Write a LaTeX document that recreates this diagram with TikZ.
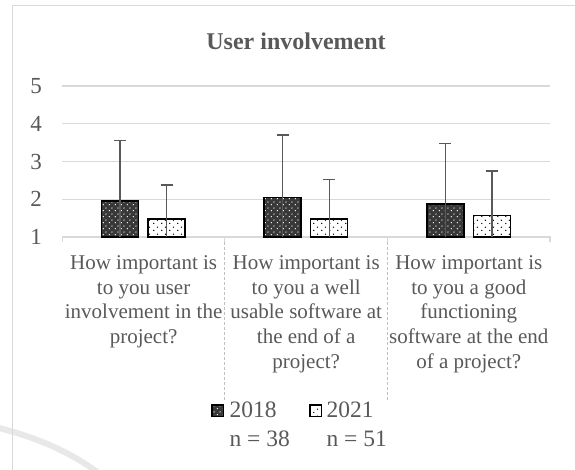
\documentclass[tikz,border=0pt]{standalone}
\usepackage{fontspec}
\setmainfont{Liberation Serif}
\usetikzlibrary{patterns}
\definecolor{txt}{HTML}{595959}
\definecolor{gridc}{HTML}{D9D9D9}
\definecolor{sepc}{HTML}{BFBFBF}
\pgfdeclarepatternformonly{spotsA}{\pgfpointorigin}{\pgfpoint{6pt}{6pt}}{\pgfpoint{6pt}{6pt}}{%
  \pgfpathcircle{\pgfpoint{1.5pt}{1.5pt}}{0.75pt}%
  \pgfpathcircle{\pgfpoint{4.5pt}{4.5pt}}{0.75pt}%
  \pgfusepath{fill}}
\pgfdeclarepatternformonly{dotsB}{\pgfpointorigin}{\pgfpoint{8pt}{7pt}}{\pgfpoint{8pt}{7pt}}{%
  \pgfpathcircle{\pgfpoint{2pt}{1.75pt}}{0.8pt}%
  \pgfpathcircle{\pgfpoint{6pt}{5.25pt}}{0.8pt}%
  \pgfusepath{fill}}
\begin{document}
\begin{tikzpicture}[x=1pt,y=-1pt,
  lbl/.style={text=txt, inner sep=0pt, outer sep=0pt},
  gridline/.style={draw=gridc, line width=1.2pt},
  barA/.style={draw=black, line width=1.5pt, preaction={fill=black!78}, pattern=spotsA, pattern color=white},
  barB/.style={draw=black, line width=1.5pt, preaction={fill=white}, pattern=dotsB, pattern color=black},
  errbar/.style={draw=txt, line width=1.4pt},
  sepline/.style={draw=sepc, line width=0.9pt, dash pattern=on 3pt off 2pt}]
\useasboundingbox (0,0) rectangle (575,470);
\clip (0,0) rectangle (575,470);
\fill[white] (0,0) rectangle (575,470);
% faint watermark arc
\draw[black!9, line width=6pt] (-5,427) .. controls (40,438) and (75,454) .. (108,480);
% chart frame
\draw[gridc, line width=1.3pt] (12.3,480) -- (12.3,5.7) -- (590,5.7);
% title
\node[lbl, anchor=base, font=\fontsize{24}{28}\selectfont\bfseries] (title) at (296,49.3) {User involvement};
% grid lines and axis
\foreach \gy in {86,123.75,161.5,199.25}{
  \draw[gridline] (62.3,\gy) -- (550,\gy);
}
\draw[gridline] (62.3,242) -- (62.3,237) -- (550,237) -- (550,242);
\draw[gridline] (224.8,237) -- (224.8,242);
\draw[gridline] (387.6,237) -- (387.6,242);
\draw[sepline] (224.8,242) -- (224.8,401);
\draw[sepline] (387.6,242) -- (387.6,401);
% tick labels
\foreach \v/\gy in {5/86,4/123.75,3/161.5,2/199.25,1/237}{
  \node[lbl, font=\fontsize{23}{27}\selectfont] (tick\v) at (36,\gy) {\v};
}
% bars
\begin{scope}[y=37.75pt, yshift=-274.75pt]
\foreach \c/\va/\ea/\vb/\eb in {143.6/1.96/3.56/1.48/2.38, 306.2/2.05/3.70/1.48/2.53, 468.8/1.87/3.47/1.57/2.75}{
  \path[barA] (\c-42,1) rectangle (\c-5,\va);
  \path[barB] (\c+4.5,1) rectangle (\c+41.5,\vb);
  \draw[errbar] (\c-23.5,1) -- (\c-23.5,\ea) (\c-29.5,\ea) -- (\c-17.5,\ea);
  \draw[errbar] (\c+23,1) -- (\c+23,\eb) (\c+17,\eb) -- (\c+29,\eb);
}
\end{scope}
% category labels
\node[lbl, anchor=base, font=\fontsize{21}{24.7}\selectfont] (cat1) at (143.6,269.3)
  {\begin{tabular}[t]{@{}c@{}}How important is\\to you user\\involvement in the\\project?\end{tabular}};
\node[lbl, anchor=base, font=\fontsize{21}{24.7}\selectfont] (cat2) at (306.2,269.3)
  {\begin{tabular}[t]{@{}c@{}}How important is\\to you a well\\usable software at\\the end of a\\project?\end{tabular}};
\node[lbl, anchor=base, font=\fontsize{21}{24.7}\selectfont] (cat3) at (468.8,269.3)
  {\begin{tabular}[t]{@{}c@{}}How important is\\to you a good\\functioning\\software at the end\\of a project?\end{tabular}};
% legend
\path[barA, line width=1.3pt] (212,405) rectangle (223.5,416.5);
\path[barB, line width=1.3pt] (310,405) rectangle (321.5,416.5);
\node[lbl, anchor=base west, font=\fontsize{23.5}{28.3}\selectfont] (leg1) at (229.5,417.7)
  {\begin{tabular}[t]{@{}l@{}}2018\\n = 38\end{tabular}};
\node[lbl, anchor=base west, font=\fontsize{23.5}{28.3}\selectfont] (leg2) at (326.5,417.7)
  {\begin{tabular}[t]{@{}l@{}}2021\\n = 51\end{tabular}};
\end{tikzpicture}
\end{document}
